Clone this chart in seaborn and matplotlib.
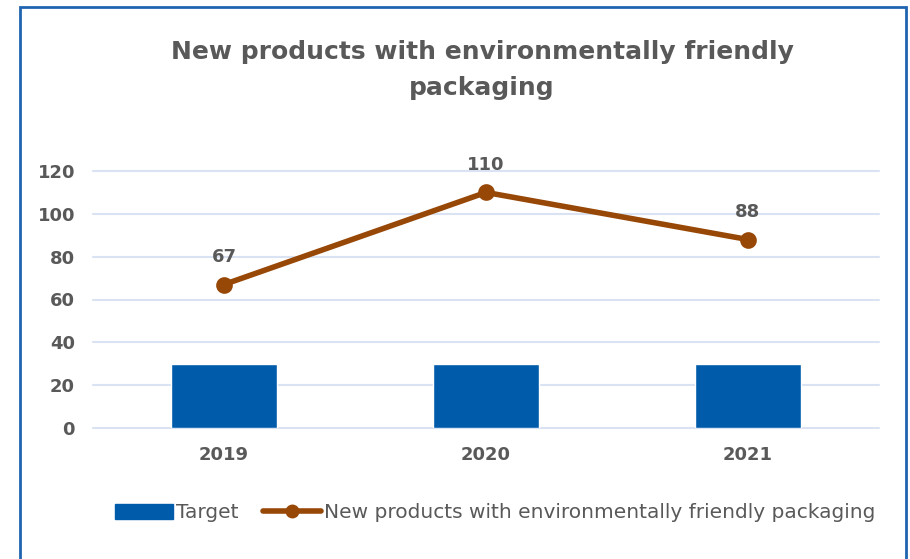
import matplotlib
matplotlib.use("Agg")
import matplotlib.pyplot as plt
import seaborn as sns
import pandas as pd
from matplotlib.patches import Patch, Rectangle
from matplotlib.lines import Line2D

years = ["2019", "2020", "2021"]
target = [30, 30, 30]
new_products = [67, 110, 88]
title = "New products with environmentally friendly\npackaging"
series_target = "Target"
series_line = "New products with environmentally friendly packaging"
yticks = [0, 20, 40, 60, 80, 100, 120]

BAR = "#005BAA"
LINE = "#974706"
TXT = "#595959"
GRID = "#D9E3F3"

sns.set_theme(style="white")
plt.rcParams['font.family'] = ['DejaVu Sans']

df = pd.DataFrame({"year": years, "target": target, "value": new_products})

fig = plt.figure(figsize=(9.1, 5.59), dpi=100)
ax = fig.add_axes([93/910, 1-428/559, (879-93)/910, (428-171)/559])

sns.barplot(data=df, x="year", y="target", color=BAR, width=0.405, ax=ax,
            saturation=1, zorder=2)
sns.pointplot(data=df, x="year", y="value", color=LINE, ax=ax,
              markersize=9, linewidth=4, zorder=3)

for i, v in enumerate(new_products):
    ax.annotate(str(v), (i, v), xytext=(0, 13), textcoords="offset points",
                ha="center", va="bottom", fontsize=13, fontweight="bold",
                color=TXT, clip_on=False)

ax.set_ylim(0, 120)
ax.set_xlim(-0.5, 2.5)
ax.set_yticks(yticks)
ax.yaxis.grid(True, color=GRID, linewidth=1.5, zorder=0)
for gl in ax.get_ygridlines():
    gl.set_clip_on(False)
ax.set_axisbelow(True)
for s in ax.spines.values():
    s.set_visible(False)
ax.set_xlabel("")
ax.set_ylabel("")
ax.tick_params(axis="both", length=0, labelsize=13, labelcolor=TXT)
ax.tick_params(axis="y", pad=13)
ax.tick_params(axis="x", pad=13)
for lab in ax.get_xticklabels() + ax.get_yticklabels():
    lab.set_fontweight("bold")

fig.text(482/910, 1-70/559, title, ha="center", va="center", fontsize=18,
         fontweight="bold", color=TXT, linespacing=1.6)

handles = [Patch(facecolor=BAR, edgecolor=BAR),
           Line2D([0], [0], color=LINE, linewidth=4, marker="o", markersize=9)]
fig.legend(handles, [series_target, series_line], loc="center",
           bbox_to_anchor=(495/910, 1-513/559), ncol=2, frameon=False,
           fontsize=14.5, labelcolor=TXT, handlelength=2.9, handletextpad=0.15,
           columnspacing=1.2)

fig.patches.append(Rectangle((20/910, -0.05), (906-20)/910, 1.05-7/559,
                             transform=fig.transFigure, fill=False,
                             edgecolor="#1F64B0", linewidth=2))

fig.savefig("out.png", dpi=100)
